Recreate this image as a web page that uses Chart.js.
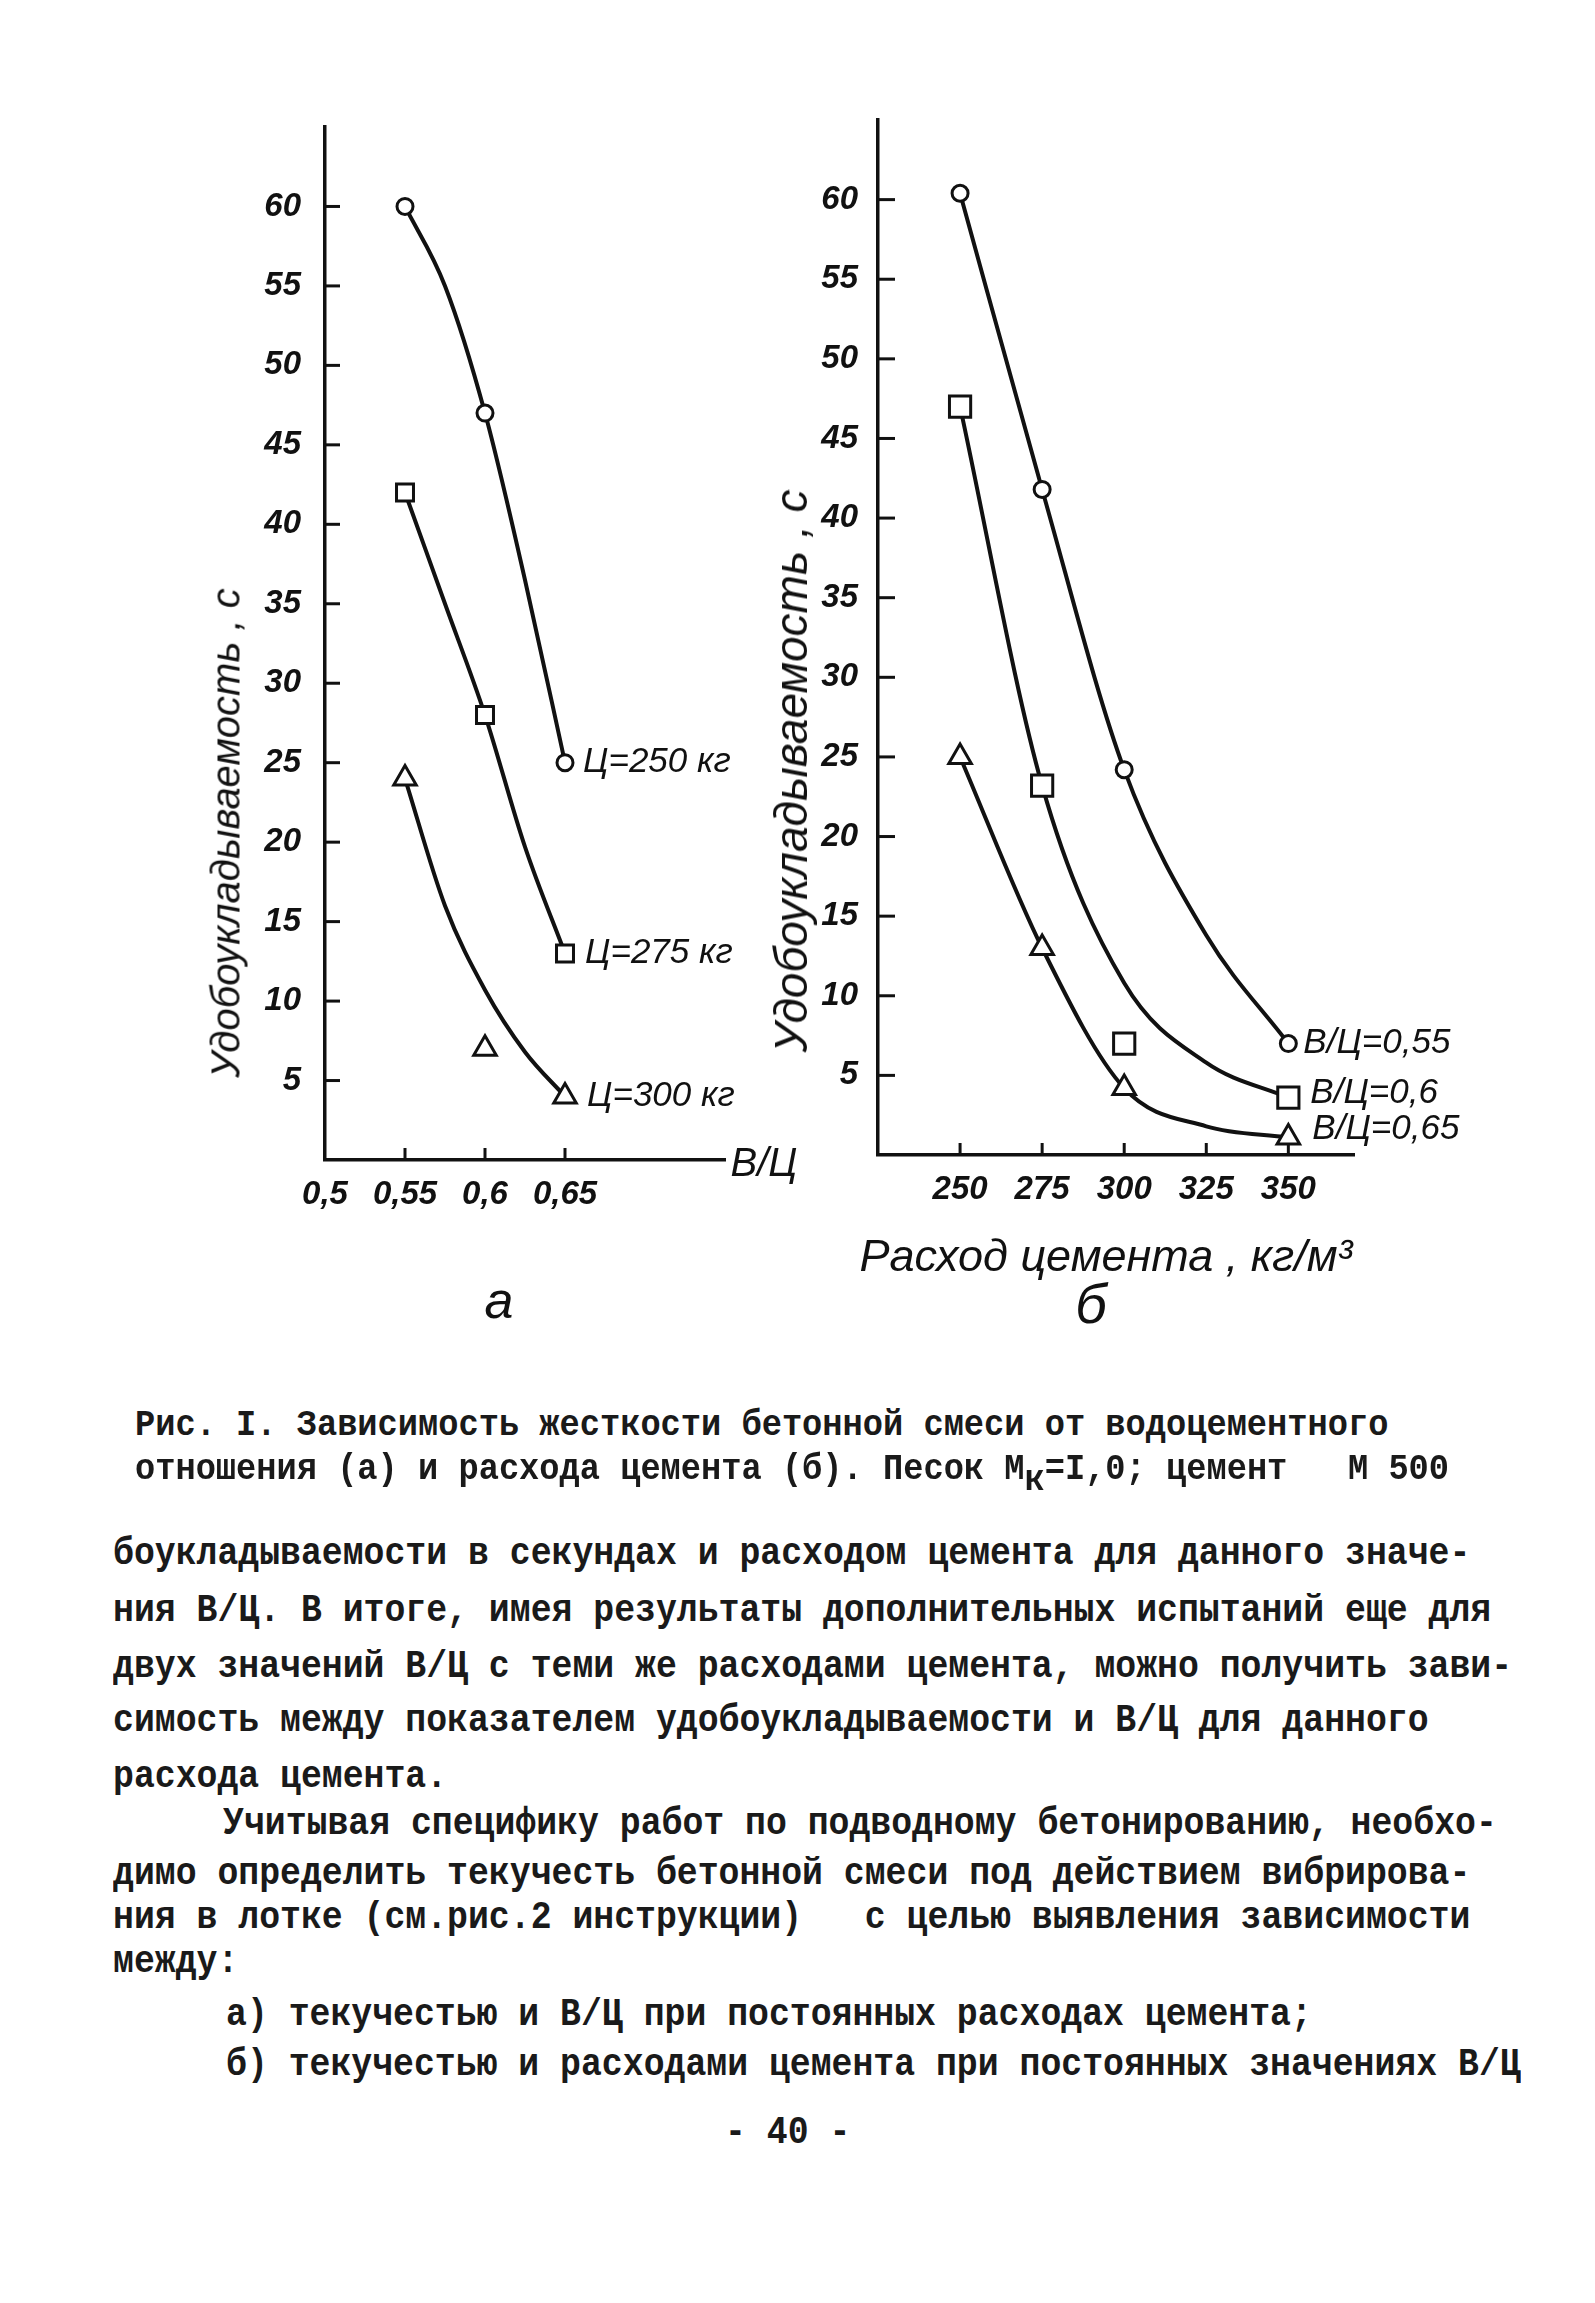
<!DOCTYPE html>
<html lang="ru">
<head>
<meta charset="utf-8">
<script src="https://cdn.jsdelivr.net/npm/chart.js@4.4.1/dist/chart.umd.min.js"></script>
<style>
  html, body { margin: 0; padding: 0; background: #fff; }
  body { width: 1595px; height: 2303px; position: relative; overflow: hidden; color: #111; }
  canvas { position: absolute; left: 0; top: 0; }
  .hand { position: absolute; font-family: "Liberation Sans", sans-serif; font-style: italic; white-space: nowrap; transform: translate(-50%, -50%); }
  .rot { transform: translate(-50%, -50%) rotate(-90deg); }
  .tw { position: absolute; font-family: "Liberation Mono", monospace; font-weight: bold; white-space: pre; line-height: 40px; color: #1a1a1a; transform-origin: 0 50%; transform: scaleY(1.12); }
  .cap { font-size: 33.7px; left: 135px; }
  .txt { font-size: 34.8px; left: 113px; }
  .low { position: relative; top: 0.3em; }
</style>
</head>
<body>
<canvas id="chartA" width="1595" height="1400"></canvas>
<canvas id="chartB" width="1595" height="1400"></canvas>

<div class="hand rot" style="left:226px;top:833px;font-size:40px">Удобоукладываемость , с</div>
<div class="hand rot" style="left:791px;top:771px;font-size:46px">Удобоукладываемость , с</div>
<div class="hand" style="left:764px;top:1162px;font-size:40px">В/Ц</div>
<div class="hand" style="left:1106px;top:1256px;font-size:45px">Расход цемента , кг/м³</div>
<div class="hand" style="left:499px;top:1300px;font-size:52px">а</div>
<div class="hand" style="left:1091px;top:1303px;font-size:56px">б</div>

<div class="tw cap" style="top:1405px">Рис. I. Зависимость жесткости бетонной смеси от водоцементного</div>
<div class="tw cap" style="top:1449px">отношения (а) и расхода цемента (б). Песок М<span class="low">к</span>=I,0; цемент   М 500</div>

<div class="tw txt" style="top:1534px">боукладываемости в секундах и расходом цемента для данного значе-</div>
<div class="tw txt" style="top:1591px">ния В/Ц. В итоге, имея результаты дополнительных испытаний еще для</div>
<div class="tw txt" style="top:1647px">двух значений В/Ц с теми же расходами цемента, можно получить зави-</div>
<div class="tw txt" style="top:1701px">симость между показателем удобоукладываемости и В/Ц для данного</div>
<div class="tw txt" style="top:1757px">расхода цемента.</div>
<div class="tw txt" style="top:1804px;left:223px">Учитывая специфику работ по подводному бетонированию, необхо-</div>
<div class="tw txt" style="top:1854px">димо определить текучесть бетонной смеси под действием вибрирова-</div>
<div class="tw txt" style="top:1898px">ния в лотке (см.рис.2 инструкции)   с целью выявления зависимости</div>
<div class="tw txt" style="top:1942px">между:</div>
<div class="tw txt" style="top:1995px;left:226px">а) текучестью и В/Ц при постоянных расходах цемента;</div>
<div class="tw txt" style="top:2045px;left:226px">б) текучестью и расходами цемента при постоянных значениях В/Ц</div>
<div class="tw txt" style="top:2113px;left:725px">- 40 -</div>

<script>
// а) удобоукладываемость от В/Ц при разных расходах цемента
const wcA = [0.55, 0.6, 0.65];
const cem250 = [60, 47, 25];
const cem275 = [42, 28, 13];
const cem300 = [24, 7, 4];
// кривые, проведённые от руки
const curveXA = [0.55, 0.575, 0.6, 0.625, 0.65];
const curve250 = [60, 55, 47, 36.5, 25];
const curve275 = [42, 35, 28, 19.7, 13];
const curve300 = [24, 16, 10.7, 6.8, 4];
const namesA = ['Ц=250 кг', 'Ц=275 кг', 'Ц=300 кг'];
const xTicksA = [0.5, 0.55, 0.6, 0.65];

// б) удобоукладываемость от расхода цемента при разных В/Ц
const cemB = [250, 275, 300, 350];
const wc055 = [60.4, 41.8, 24.2, 7];
const wc060 = [47, 23.2, 7, 3.6];
const wc065 = [25, 13, 4.2, 1.1];
const curveXB = [250, 275, 300, 325, 350];
const curve055 = [60.4, 41.8, 24.2, 13.8, 7];
const curve060 = [47, 23.2, 10.8, 5.8, 3.6];
const curve065 = [25, 13, 4.2, 1.8, 1.1];
const namesB = ['В/Ц=0,55', 'В/Ц=0,6', 'В/Ц=0,65'];
const xTicksB = [250, 275, 300, 325, 350];

const yTicks = [5, 10, 15, 20, 25, 30, 35, 40, 45, 50, 55, 60];

const ink = '#111';
const tickFont = { family: '"Liberation Sans", sans-serif', style: 'italic', weight: 'bold', size: 33 };

function pts(xs, ys) {
  return xs.map((x, i) => ({ x: x, y: ys[i] }));
}

function curve(xs, ys) {
  return {
    type: 'line', data: pts(xs, ys), showLine: true,
    borderColor: ink, borderWidth: 4, pointRadius: 0,
    cubicInterpolationMode: 'monotone', order: 1
  };
}

function marks(xs, ys, style, r, name, dx, dy) {
  return {
    data: pts(xs, ys), showLine: false,
    pointStyle: style, pointRadius: r,
    pointBackgroundColor: '#fff', pointBorderColor: ink, pointBorderWidth: 3,
    order: 0, endLabel: name, labelDx: dx, labelDy: dy
  };
}

// засечки внутрь поля и подписи у концов кривых
const handDraw = {
  id: 'handDraw',
  afterDatasetsDraw(chart, args, opts) {
    const ctx = chart.ctx;
    const area = chart.chartArea;
    const sx = chart.scales.x, sy = chart.scales.y;
    ctx.save();
    ctx.strokeStyle = ink;
    ctx.lineWidth = 3;
    sx.ticks.forEach(t => {
      if (t.value <= sx.min) return;
      const px = sx.getPixelForValue(t.value);
      ctx.beginPath();
      ctx.moveTo(px, area.bottom);
      ctx.lineTo(px, area.bottom - opts.xTick);
      ctx.stroke();
    });
    sy.ticks.forEach(t => {
      const py = sy.getPixelForValue(t.value);
      ctx.beginPath();
      ctx.moveTo(area.left, py);
      ctx.lineTo(area.left + opts.yTick, py);
      ctx.stroke();
    });
    ctx.font = 'italic 35px "Liberation Sans", sans-serif';
    ctx.fillStyle = ink;
    ctx.textBaseline = 'middle';
    chart.data.datasets.forEach((ds, i) => {
      if (!ds.endLabel) return;
      const els = chart.getDatasetMeta(i).data;
      const last = els[els.length - 1];
      ctx.fillText(ds.endLabel, last.x + ds.labelDx, last.y + ds.labelDy);
    });
    ctx.restore();
  }
};

function makeChart(id, datasets, xMin, xMax, xTicks, pad, fmt, tickLen) {
  return new Chart(document.getElementById(id), {
    type: 'scatter',
    data: { datasets: datasets },
    options: {
      responsive: false,
      animation: false,
      devicePixelRatio: 1,
      layout: { padding: pad },
      plugins: { legend: { display: false }, tooltip: { enabled: false }, handDraw: tickLen },
      scales: {
        x: {
          type: 'linear', min: xMin, max: xMax,
          afterBuildTicks: s => { s.ticks = xTicks.map(v => ({ value: v })); },
          afterFit: s => { s.height = 80; },
          grid: { display: false, drawTicks: false },
          border: { color: ink, width: 3.5 },
          ticks: { padding: 15, color: ink, font: tickFont, callback: fmt }
        },
        y: {
          min: 0, max: 65,
          afterBuildTicks: s => { s.ticks = yTicks.map(v => ({ value: v })); },
          afterFit: s => { s.width = 100; },
          grid: { display: false, drawTicks: false },
          border: { color: ink, width: 3.5 },
          ticks: { padding: tickLen.yPad, color: ink, font: tickFont, callback: v => String(v) }
        }
      }
    },
    plugins: [handDraw]
  });
}

makeChart('chartA', [
  curve(curveXA, curve250),
  curve(curveXA, curve275),
  curve(curveXA, curve300),
  marks(wcA, cem250, 'circle', 8, namesA[0], 18, 0),
  marks(wcA, cem275, 'rect', 12, namesA[1], 20, 0),
  marks(wcA, cem300, 'triangle', 13, namesA[2], 22, 0)
], 0.5, 0.75, xTicksA, { left: 225, right: 870, top: 127, bottom: 160 },
  v => String(v).replace('.', ','), { xTick: 12, yTick: 15, yPad: 24 });

makeChart('chartB', [
  curve(curveXB, curve055),
  curve(curveXB, curve060),
  curve(curveXB, curve065),
  marks(cemB, wc055, 'circle', 8, namesB[0], 15, 0),
  marks(cemB, wc060, 'rect', 15, namesB[1], 22, -4),
  marks(cemB, wc065, 'triangle', 13, namesB[2], 24, -8)
], 225, 370, xTicksB, { left: 778, right: 241, top: 120, bottom: 165 },
  v => String(v), { xTick: 12, yTick: 17, yPad: 20 });
</script>
</body>
</html>
